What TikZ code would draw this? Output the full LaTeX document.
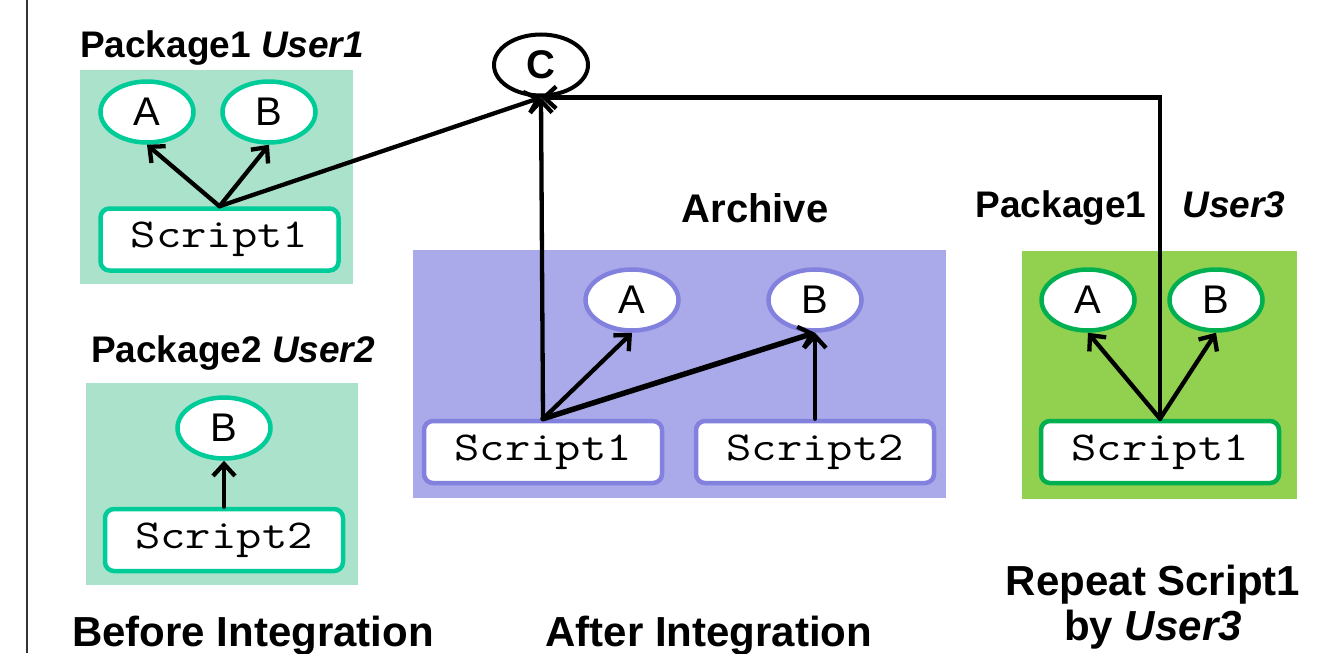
\documentclass[tikz,border=0pt]{standalone}
\usepackage{fontspec}
\setmainfont{Liberation Sans}
\setmonofont{Latin Modern Mono}[FakeStretch=1.2]
\usetikzlibrary{shapes.geometric,arrows.meta}
\definecolor{tealbg}{RGB}{171,226,204}
\definecolor{tealln}{RGB}{0,204,153}
\definecolor{lavbg}{RGB}{170,170,234}
\definecolor{lavln}{RGB}{130,130,222}
\definecolor{grnbg}{RGB}{146,208,80}
\definecolor{grnln}{RGB}{0,176,80}
\tikzset{
  ell/.style={ellipse, draw, fill=white, line width=4.5pt, inner sep=0pt,
    minimum width=93pt, minimum height=61pt,
    font=\fontsize{40}{40}\selectfont},
  scr/.style={rectangle, rounded corners=9pt, draw, fill=white, line width=4.5pt,
    inner sep=0pt, minimum width=238pt, minimum height=62pt,
    font=\ttfamily\fontsize{41}{41}\selectfont},
  lbl/.style={anchor=base, inner sep=0pt, font=\bfseries\fontsize{37}{40}\selectfont},
  big/.style={anchor=base, inner sep=0pt, font=\bfseries\fontsize{42}{44}\selectfont, align=center},
  arr/.style={-{Straight Barb[length=12pt,width=22pt,line width=4.3pt]}, line width=4.3pt, line cap=round},
}
\begin{document}
\begin{tikzpicture}[x=1pt,y=-1pt]
\useasboundingbox (0,0) rectangle (1329,653);
\fill[white] (0,0) rectangle (1329,653);
\draw[line width=2pt, black!80] (27,0) -- (27,653);

% backgrounds
\fill[tealbg] (80,70) rectangle (353,284);
\fill[tealbg] (86,383) rectangle (358,585);
\fill[lavbg] (413,250) rectangle (946,498);
\fill[grnbg] (1022,251) rectangle (1297,499);

% labels
\node[lbl] (l1) at (222,57) {Package1 \textit{User1}};
\node[lbl] (l2) at (233,362) {Package2 \textit{User2}};
\node[big, font=\bfseries\fontsize{40}{44}\selectfont] (l3) at (755,222) {Archive};
\node[lbl] (l4) at (1061,217) {Package1};
\node[lbl] (l5) at (1234,217) {\textit{User3}};
\node[big] (l6) at (253,646) {Before Integration};
\node[big] (l7) at (709,646) {After Integration};
\node[big] (l8) at (1153,595) {Repeat Script1};
\node[big] (l9) at (1153,640) {by \textit{User3}};

% C
\node[ell, line width=4pt, minimum width=94pt, font=\bfseries\fontsize{40}{40}\selectfont] (C) at (541,65) {C};

% package 1 user 1
\node[ell, draw=tealln] (a1) at (147,112) {A};
\node[ell, draw=tealln] (b1) at (269,112) {B};
\node[scr, draw=tealln] (s1) at (219.5,239.5) {Script1};

% package 2 user 2
\node[ell, draw=tealln] (b2) at (224,428) {B};
\node[scr, draw=tealln] (s2) at (224,540) {Script2};

% archive
\node[ell, draw=lavln] (a3) at (632,300) {A};
\node[ell, draw=lavln] (b3) at (815,300) {B};
\node[scr, draw=lavln] (s31) at (543,452) {Script1};
\node[scr, draw=lavln] (s32) at (815,452) {Script2};

% repeat
\node[ell, draw=grnln] (a4) at (1088,300) {A};
\node[ell, draw=grnln] (b4) at (1216,300) {B};
\node[scr, draw=grnln] (s4) at (1160,452) {Script1};

% connectors
\draw[arr] (s1.north) -- (a1.south);
\draw[arr] (s1.north) -- (b1.south);
\draw[arr] (s1.north) -- (C.south);
\draw[arr] (b2.south |- s2.north) -- (b2.south);
\draw[arr] (s31.north) -- (C.south);
\draw[arr] (s31.north) -- (a3.south);
\draw[arr, line width=5.5pt] (s31.north) -- (b3.south);
\draw[arr] (b3.south |- s32.north) -- (b3.south);
\draw[arr] (s4.north) -- (a4.south);
\draw[arr] (s4.north) -- (b4.south);
\draw[arr] (s4.north) |- (C.south);
\end{tikzpicture}
\end{document}
